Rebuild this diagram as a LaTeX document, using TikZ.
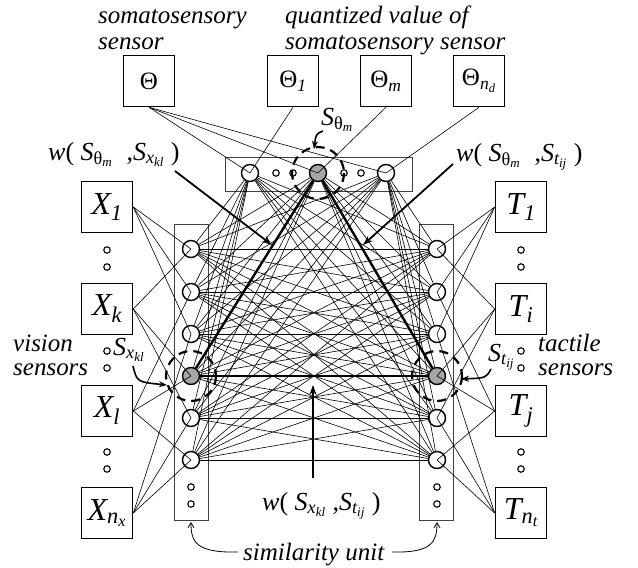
\documentclass[tikz,border=0pt]{standalone}
\usepackage{fontspec}
\setmainfont{Liberation Serif}
\usepackage{amsmath}
\usetikzlibrary{arrows.meta}
\newcommand\ti[1]{\text{\itshape #1}}
\begin{document}
\begin{tikzpicture}[x=1pt,y=-1pt,
  sensorbox/.style={draw, line width=1.6pt, minimum size=51pt, inner sep=0pt},
  boxletter/.style={sensorbox, font=\fontsize{32}{32}\selectfont},
  boxtheta/.style={sensorbox, font=\fontsize{25}{25}\selectfont},
  unitnode/.style={circle, draw, line width=1.4pt, minimum size=17pt, inner sep=0pt},
  graynode/.style={unitnode, fill=black!35},
  smalldot/.style={circle, draw, line width=1.1pt, minimum size=6.5pt, inner sep=0pt},
  unitbox/.style={draw=black!75, line width=0.8pt},
  conn/.style={line width=0.6pt},
  boldconn/.style={line width=2.4pt},
  dashring/.style={dash pattern=on 9pt off 6pt, line width=2.2pt},
  pointer/.style={line width=1.8pt, -{Stealth[length=10pt,width=7pt]}},
  smallpointer/.style={line width=1.6pt, -{Stealth[length=8pt,width=6pt]}},
  thinpointer/.style={line width=0.8pt, -{Straight Barb[length=5pt,width=6pt]}},
  lab/.style={font=\fontsize{25}{25}\selectfont\itshape, inner sep=0pt, anchor=base west},
  wlab/.style={font=\fontsize{26}{26}\selectfont, inner sep=0pt, anchor=base west}
]
\useasboundingbox (0,0) rectangle (638,568);

% unit rectangles
\draw[unitbox] (225,157) rectangle (412,191);
\draw[unitbox] (174,224) rectangle (208,520);
\draw[unitbox] (419,224) rectangle (453,520);

% sensor boxes
\node[boxtheta] (th)  at (149,81) {Θ};
\node[boxtheta] (th1) at (293,81) {$\text{Θ}_{\ti{1}}$};
\node[boxtheta] (thm) at (386,81) {$\text{Θ}_{\ti{m}}$};
\node[boxtheta] (thn) at (479,81) {$\text{Θ}_{\ti{n}_{\ti{d}}}$};

\node[boxletter] (x1) at (107,207) {$\ti{X}_{\ti{1}}$};
\node[boxletter] (xk) at (107,309) {$\ti{X}_{\ti{k}}$};
\node[boxletter] (xl) at (107,411) {$\ti{X}_{\ti{l}}$};
\node[boxletter] (xn) at (107,513) {$\ti{X}_{\ti{n}_{\ti{x}}}$};

\node[boxletter] (tt1) at (521,207) {$\ti{T}_{\ti{1}}$};
\node[boxletter] (tti) at (521,309) {$\ti{T}_{\ti{i}}$};
\node[boxletter] (ttj) at (521,411) {$\ti{T}_{\ti{j}}$};
\node[boxletter] (ttn) at (521,513) {$\ti{T}_{\ti{n}_{\ti{t}}}$};

% dots between boxes
\foreach \y [count=\c] in {250,267,351,368,452,469} {
  \node[smalldot] (ld\c) at (107,\y) {};
  \node[smalldot] (rd\c) at (521,\y) {};
}

% unit nodes
\node[unitnode] (t1) at (250,173) {};
\node[graynode] (t2) at (318,173) {};
\node[unitnode] (t3) at (386,173) {};
\foreach \x [count=\c] in {276,293,344,361} \node[smalldot] (td\c) at (\x,173) {};

\foreach \y [count=\c] in {249,292,334,376,418,460} {
  \ifnum\c=4
    \node[graynode] (l\c) at (191,\y) {};
    \node[graynode] (r\c) at (437,\y) {};
  \else
    \node[unitnode] (l\c) at (191,\y) {};
    \node[unitnode] (r\c) at (437,\y) {};
  \fi
}
\node[smalldot] (lu1) at (191,487) {};
\node[smalldot] (lu2) at (191,504) {};
\node[smalldot] (ru1) at (437,487) {};
\node[smalldot] (ru2) at (437,504) {};

% sensor to unit connections
\foreach \t in {t1,t2,t3} \draw[conn] (th.south) -- (\t.center);
\draw[conn] (th1.south) -- (t1.center);
\draw[conn] (thm.south) -- (t2.center);
\draw[conn] (thn.south) -- (t3.center);

\foreach \s/\n in {x1/1,x1/2,x1/3,xk/1,xk/4,xk/5,xl/2,xl/4,xl/6,xn/3,xn/5,xn/6}
  \draw[conn] (\s.east) -- (l\n.center);
\foreach \s/\n in {tt1/1,tt1/2,tt1/3,tti/1,tti/4,tti/5,ttj/2,ttj/4,ttj/6,ttn/3,ttn/5,ttn/6}
  \draw[conn] (\s.west) -- (r\n.center);

% unit to unit connections
\foreach \i in {1,...,6} \foreach \j in {1,...,6} \draw[conn] (l\i) -- (r\j);
\foreach \t in {t1,t2,t3} \foreach \j in {1,...,6} {
  \draw[conn] (\t) -- (l\j);
  \draw[conn] (\t) -- (r\j);
}
\draw[boldconn] (t2) -- (l4);
\draw[boldconn] (t2) -- (r4);
\draw[boldconn] (l4) -- (r4);

% dashed rings
\draw[dashring] (t2.center) circle (26);
\draw[dashring] (l4.center) circle (25);
\draw[dashring] (r4.center) circle (25);

% texts
\node[lab] (somaA) at (98,23) {somatosensory};
\node[lab] (somaB) at (98,49) {sensor};
\node[lab] (quanA) at (285,23) {quantized value of};
\node[lab] (quanB) at (285,49) {somatosensory sensor};
\node[lab] (visA) at (13,351) {vision};
\node[lab] (visB) at (13,375) {sensors};
\node[lab] (tacA) at (538,351) {tactile};
\node[lab] (tacB) at (538,375) {sensors};
\node[lab] (simu) at (243,560) {similarity unit};

\node[wlab] (stm) at (321,125) {$\ti{S}_{\text{θ}_{\ti{m}}}$};
\node[wlab] (sxkl) at (113,355) {$\ti{S}_{\ti{x}_{\ti{kl}}}$};
\node[wlab] (stij) at (488,361) {$\ti{S}_{\ti{t}_{\ti{ij}}}$};

\node[wlab] (wleft) at (48,160) {\itshape w\upshape ( $\ti{S}_{\text{θ}_{\ti{m}}}$\; ,$\ti{S}_{\ti{x}_{\ti{kl}}}$ )};
\node[wlab] (wright) at (456,161) {\itshape w\upshape ( $\ti{S}_{\text{θ}_{\ti{m}}}$\; ,$\ti{S}_{\ti{t}_{\ti{ij}}}$ )};
\node[wlab] (wbot) at (262,510) {\itshape w\upshape ( $\ti{S}_{\ti{x}_{\ti{kl}}}$ ,$\ti{S}_{\ti{t}_{\ti{ij}}}$ )};

% pointers
\coordinate (pa1) at (175,171);
\coordinate (pa2) at (272,245);
\coordinate (pb1) at (453,164);
\coordinate (pb2) at (363,245);
\coordinate (pc1) at (313,478);
\coordinate (pc2) at (313,385);
\draw[pointer] (pa1) -- (pa2);
\draw[pointer] (pb1) -- (pb2);
\draw[pointer] (pc1) -- (pc2);

\coordinate (qa1) at (323,131);
\coordinate (qa2) at (314,149);
\draw[smallpointer] (qa1) .. controls (316,134) .. (qa2);
\coordinate (qb1) at (133,366);
\coordinate (qb2) at (167,385);
\draw[smallpointer] (qb1) .. controls (137,382) .. (qb2);
\coordinate (qc1) at (491,369);
\coordinate (qc2) at (461,379);
\draw[smallpointer] (qc1) .. controls (486,378) .. (qc2);

\coordinate (sa) at (191,522);
\coordinate (sb) at (437,522);
\draw[thinpointer] (238,552) .. controls (196,553) and (191,542) .. (sa);
\draw[thinpointer] (392,552) .. controls (432,553) and (437,542) .. (sb);
\end{tikzpicture}
\end{document}
